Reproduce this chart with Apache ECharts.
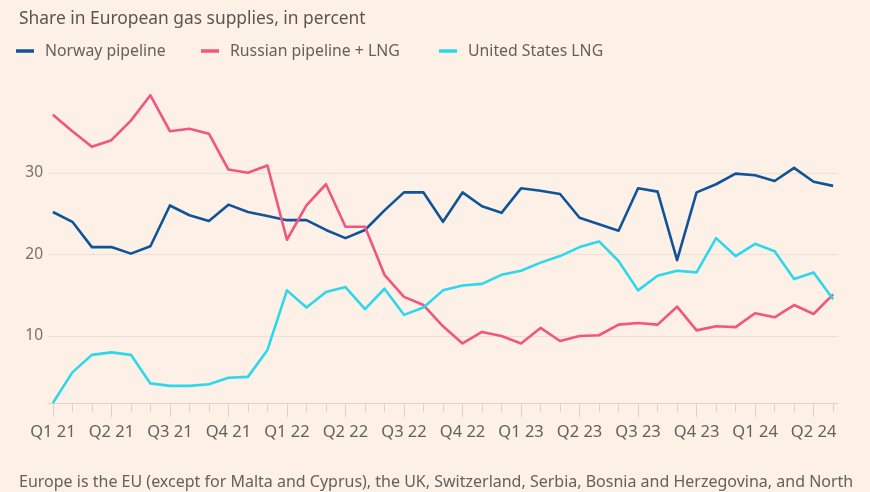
<!DOCTYPE html>
<html>
<head>
<meta charset="utf-8">
<script src="https://cdn.jsdelivr.net/npm/echarts@6.0.0/dist/echarts.min.js"></script>
<style>
  html, body { margin: 0; padding: 0; background: #fdf0e6; }
  #chart { width: 870px; height: 492px; }
</style>
</head>
<body>
<div id="chart"></div>
<script>
const quarterLabels = ["Q1 21","Q2 21","Q3 21","Q4 21","Q1 22","Q2 22","Q3 22","Q4 22","Q1 23","Q2 23","Q3 23","Q4 23","Q1 24","Q2 24"];
const yTicks = [10, 20, 30];
const norway = [25.2, 24.0, 20.9, 20.9, 20.1, 21.0, 26.0, 24.8, 24.1, 26.1, 25.2,
  24.7, 24.2, 24.2, 23.0, 22.0, 23.0, 25.4, 27.6, 27.6, 24.0,
  27.6, 25.9, 25.1, 28.1, 27.8, 27.4, 24.5, 23.7, 22.9, 28.1,
  27.7, 19.3, 27.6, 28.6, 29.9, 29.7, 29.0, 30.6, 28.9, 28.4];
const russia = [37.1, 35.1, 33.2, 34.0, 36.4, 39.5, 35.1, 35.4, 34.8, 30.4, 30.0,
  30.9, 21.8, 26.0, 28.6, 23.4, 23.4, 17.5, 14.8, 13.8, 11.2,
  9.1, 10.5, 10.0, 9.1, 11.0, 9.4, 10.0, 10.1, 11.4, 11.6,
  11.4, 13.6, 10.7, 11.2, 11.1, 12.8, 12.3, 13.8, 12.7, 15.1];
const usLng = [1.8, 5.55, 7.7, 8.0, 7.7, 4.2, 3.9, 3.9, 4.1, 4.9, 5.0,
  8.3, 15.6, 13.5, 15.4, 16.0, 13.3, 15.8, 12.6, 13.5, 15.6,
  16.2, 16.4, 17.5, 18.0, 19.0, 19.8, 20.9, 21.6, 19.2, 15.6,
  17.4, 18.0, 17.8, 22.0, 19.8, 21.3, 20.4, 17.0, 17.8, 14.5];
const seriesNames = ["Norway pipeline", "Russian pipeline + LNG", "United States LNG"];
const seriesColors = ["#0f5499", "#f2557f", "#2cd8ea"];

const monthIdx = norway.map((_, i) => i);
const quarterIdx = quarterLabels.map((_, i) => i * 3);
const toPairs = arr => arr.map((v, i) => [i, v]);

const font = "Noto Sans";
const textGray = "#66605c";
const axisGray = "#dcd2c9";

const chart = echarts.init(document.getElementById('chart'), null, { renderer: 'canvas' });
const legendLefts = [16, 201, 439];

chart.setOption({
  backgroundColor: '#fdf0e6',
  animation: false,
  textStyle: { fontFamily: font },
  title: [
    {
      text: 'Share in European gas supplies, in percent',
      left: 14, top: 3,
      textStyle: { fontFamily: font, fontSize: 17.4, fontWeight: 'normal', color: '#5b5552', lineHeight: 22 }
    },
    {
      text: 'Europe is the EU (except for Malta and Cyprus), the UK, Switzerland, Serbia, Bosnia and Herzegovina, and North',
      left: 14, top: 466,
      textStyle: { fontFamily: font, fontSize: 16, fontWeight: 'normal', color: textGray, lineHeight: 22 }
    }
  ],
  legend: seriesNames.map((n, k) => ({
    data: [n],
    left: legendLefts[k], top: 42,
    icon: 'rect', itemWidth: 18, itemHeight: 3.5,
    padding: 0,
    textStyle: { fontFamily: font, fontSize: 15.8, color: textGray, lineHeight: 18, padding: [0, 0, 0, 6] }
  })),
  grid: { left: 48, right: 32, top: 91.2, bottom: 89 },
  xAxis: [
    {
      type: 'value', min: -0.25, max: 40.25, position: 'bottom',
      axisLine: { show: true, lineStyle: { color: axisGray, width: 1 } },
      axisTick: { show: true, customValues: quarterIdx, length: 14, lineStyle: { color: axisGray } },
      axisLabel: {
        customValues: quarterIdx, margin: 21, fontSize: 16.5, color: textGray, fontFamily: font,
        formatter: v => quarterLabels[Math.round(v / 3)]
      },
      splitLine: { show: false }
    },
    {
      type: 'value', min: -0.25, max: 40.25, position: 'bottom',
      axisLine: { show: false },
      axisTick: { show: true, customValues: monthIdx, length: 9, lineStyle: { color: axisGray } },
      axisLabel: { show: false },
      splitLine: { show: false }
    }
  ],
  yAxis: {
    type: 'value', min: 1.8, max: 40,
    axisLine: { show: false },
    axisTick: { show: false, customValues: yTicks },
    axisLabel: { customValues: yTicks, margin: 5, fontSize: 15.5, color: '#77706b', fontFamily: font },
    splitLine: { show: true, lineStyle: { color: '#ebe0d6', width: 1 } }
  },
  series: [norway, russia, usLng].map((arr, k) => ({
    name: seriesNames[k],
    type: 'line',
    xAxisIndex: 0,
    data: toPairs(arr),
    showSymbol: false,
    symbol: 'none',
    lineStyle: { width: 2.6, color: seriesColors[k], join: 'round' },
    itemStyle: { color: seriesColors[k] },
    emphasis: { disabled: true }
  }))
});
</script>
</body>
</html>
